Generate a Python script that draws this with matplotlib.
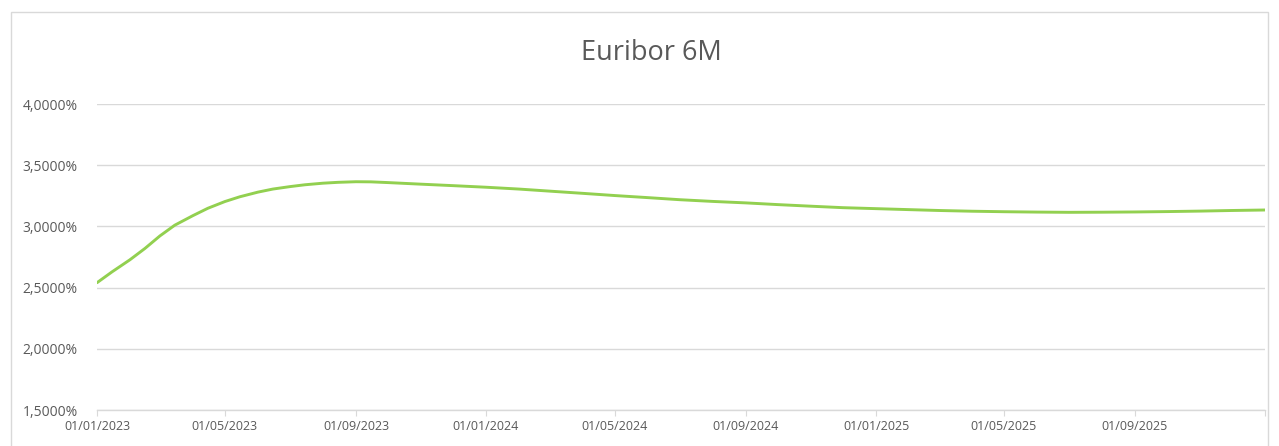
import numpy as np
import pandas as pd
import matplotlib
matplotlib.use("Agg")
from matplotlib import pyplot as plt
from matplotlib.ticker import FuncFormatter
from matplotlib.patches import Rectangle

plt.rcParams['font.family'] = ['Open Sans', 'DejaVu Sans']

# Euribor 6M curve (values in %): twice a month until Oct 2023, then monthly
dates_2023 = ["2023-01-01", "2023-01-15", "2023-02-01", "2023-02-15", "2023-03-01",
              "2023-03-15", "2023-04-01", "2023-04-15", "2023-05-01", "2023-05-15",
              "2023-06-01", "2023-06-15", "2023-07-01", "2023-07-15", "2023-08-01",
              "2023-08-15", "2023-09-01", "2023-09-15", "2023-10-01"]
vals_2023 = [2.540, 2.628, 2.728, 2.820, 2.922, 3.010, 3.088, 3.148, 3.203, 3.242,
             3.280, 3.305, 3.325, 3.340, 3.353, 3.360, 3.365, 3.364, 3.358]
dates_later = pd.date_range("2023-11-01", "2026-01-01", freq="MS")
vals_later = [3.345, 3.333, 3.320, 3.305, 3.288, 3.270, 3.252, 3.235, 3.218, 3.204,
              3.192, 3.178, 3.165, 3.153, 3.145, 3.137, 3.130, 3.124, 3.120, 3.117,
              3.115, 3.116, 3.118, 3.121, 3.125, 3.130, 3.134]
tick_dates = pd.date_range("2023-01-01", "2025-09-01", freq="4MS")

dates = list(pd.to_datetime(dates_2023)) + list(dates_later)
euribor = vals_2023 + vals_later

W, H = 1279, 446
fig = plt.figure(figsize=(W / 100, H / 100), dpi=100)
# plot area in pixels: left 97, right 1265, top 104, bottom 410
ax = fig.add_axes([97 / W, 1 - 410 / H, (1265 - 97) / W, (410 - 104) / H])

# chart frame
fig.patches.append(Rectangle((11 / W, -0.01), (1268 - 11) / W, 1 - 12 / H + 0.01,
                             transform=fig.transFigure, fill=False,
                             edgecolor="#d9d9d9", linewidth=1))

ax.plot(dates, euribor, color="#92d050", linewidth=2.1,
        solid_capstyle="round", solid_joinstyle="round")

ax.set_ylim(1.5, 4.0)
ax.set_yticks([1.5, 2.0, 2.5, 3.0, 3.5, 4.0])
ax.yaxis.set_major_formatter(FuncFormatter(lambda v, p: ("%.4f%%" % v).replace(".", ",")))
ax.set_xlim(pd.Timestamp("2023-01-01"), pd.Timestamp("2026-01-01"))
ax.set_xticks(list(tick_dates) + [pd.Timestamp("2026-01-01")])
ax.set_xticklabels([d.strftime("%d/%m/%Y") for d in tick_dates] + [""])

ax.grid(axis="y", color="#d9d9d9", linewidth=1)
ax.set_axisbelow(True)
for s in ["top", "right", "left"]:
    ax.spines[s].set_visible(False)
ax.spines["bottom"].set_color("#d9d9d9")
ax.spines["bottom"].set_linewidth(1)
ax.tick_params(axis="y", length=0, pad=14, labelsize=10, labelcolor="#595959")
ax.tick_params(axis="x", length=4, color="#d9d9d9", pad=3, labelsize=9, labelcolor="#595959")

fig.text(651 / W, 1 - 53 / H, "Euribor 6M", ha="center", va="center",
         fontsize=19.5, color="#595959")

plt.savefig("out.png", dpi=100)
